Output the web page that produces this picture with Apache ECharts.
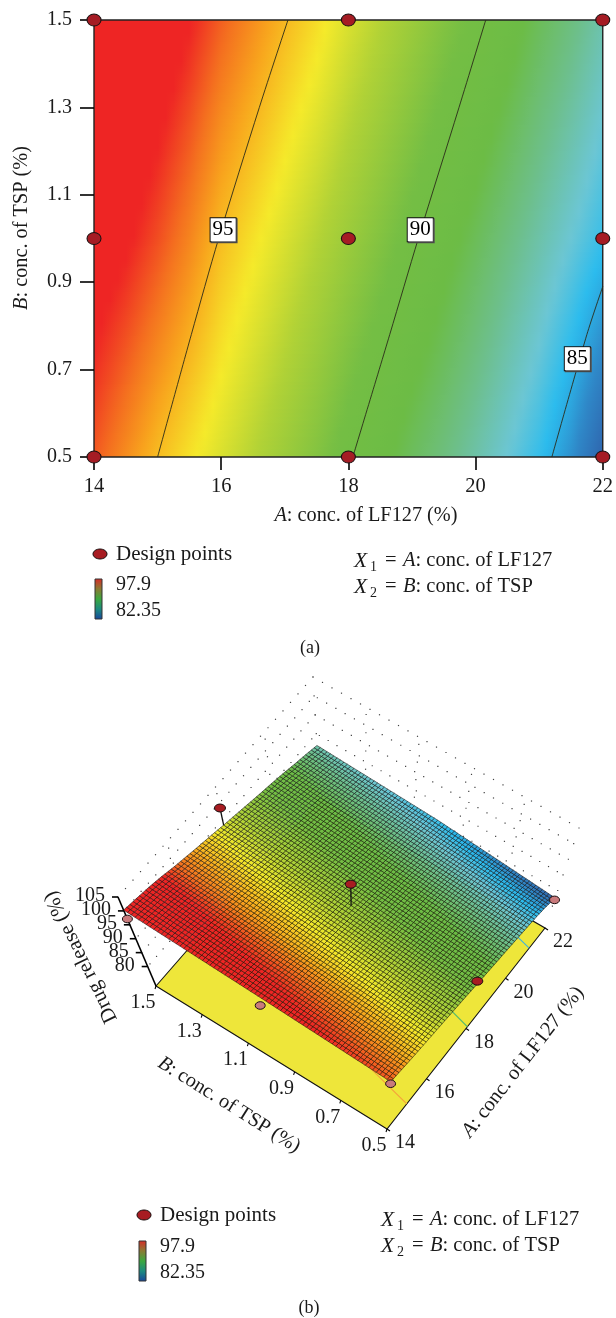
<!DOCTYPE html>
<html><head><meta charset="utf-8">
<style>html,body{margin:0;padding:0;background:#fff}#c{width:616px;height:1318px}</style>
<script src="https://cdn.jsdelivr.net/npm/echarts@6/dist/echarts.min.js"></script>
</head><body><div id="c"></div>
<script>
// ---------- data ----------
const concA = [14,14.5,15,15.5,16,16.5,17,17.5,18,18.5,19,19.5,20,20.5,21,21.5,22];
const concB = [0.5,1.0,1.5];
const releaseB05 = [97.0,96.0,95.0,94.2,93.4,92.6,91.8,91.0,90.1,89.3,88.5,87.8,87.0,86.2,85.35,84.2,82.6];
const releaseB10 = [98.8,98.1,97.2,96.2,95.0,94.2,93.4,92.6,91.8,91.0,90.2,89.4,88.6,87.8,87.0,86.2,85.4];
const releaseB15 = [100.3,99.6,98.9,98.0,96.9,96.0,95.1,94.3,93.4,92.6,91.8,91.0,90.3,89.5,88.6,87.8,86.9];
const contour95 = [[15.0,0.5],[15.53,0.78],[15.96,1.0],[16.6,1.3],[17.05,1.5]];
const contour90 = [[18.07,0.5],[18.65,0.78],[19.1,1.0],[19.74,1.3],[20.16,1.5]];
const contour85 = [[21.2,0.5],[21.75,0.78],[22,0.89]];
const contourLabels = [[16.03,1.02,'95'],[19.13,1.02,'90'],[21.6,0.725,'85']];
const designPoints2D = [[14,1.5],[18,1.5],[22,1.5],[14,1.0],[18,1.0],[22,1.0],[14,0.5],[18,0.5],[22,0.5]];
// A, B, response, above surface (1) or under it (0)
const designPoints3D = [[14,1.5,97.1,0],[18,1.5,98.6,1],[14,1.0,94.9,0],[14,0.5,96,0],[18,1.0,99.1,1],[18,0.5,91.6,1],[22,0.5,82,0]];
const ticksA2D = [14,16,18,20,22];
const ticksA3D = [14,16,18,20,22];
const ticksB3D = [1.5,1.3,1.1,0.9,0.7,0.5];
const ticksZ3D = [105,100,95,90,85,80];
const legendMax = '97.9', legendMin = '82.35';
// colour scale: response -> colour
const scaleValues = [82.35,84,85.2,86.2,87.5,89,90.5,92.5,94,95.5,96.6,97.9];
const scaleColors = ['#2f5ea8','#2f88c8','#2bbcee','#6cc6d4','#6dbf8c','#6cbc45','#74be44','#b1d236','#f5ea2a','#f8a51d','#f4701f','#ee2524'];

// ---------- helpers ----------
const serif = '"Liberation Serif"';
const rows = [releaseB05, releaseB10, releaseB15];
const rgb = scaleColors.map(c => [1,3,5].map(k => parseInt(c.substr(k,2),16)));
function colorOf(v){
  if (v <= scaleValues[0]) return scaleColors[0];
  const n = scaleValues.length-1;
  if (v >= scaleValues[n]) return scaleColors[n];
  let k = 0; while (scaleValues[k+1] < v) k++;
  const t = (v-scaleValues[k])/(scaleValues[k+1]-scaleValues[k]);
  const c = rgb[k].map((x,m)=>Math.round(x+(rgb[k+1][m]-x)*t));
  return 'rgb('+c.join(',')+')';
}
function blend(i,j,s,t){ // shade between the four table values round one cell
  const lo = rows[j][i]+(rows[j][i+1]-rows[j][i])*s;
  const hi = rows[j+1][i]+(rows[j+1][i+1]-rows[j+1][i])*s;
  return lo+(hi-lo)*t;
}
const cells = [];
for (let j=0;j<concB.length-1;j++) for (let i=0;i<concA.length-1;i++)
  cells.push([concA[i],concB[j],concA[i+1],concB[j+1],i,j]);

// 3D view: the eight projected corners of the plot box (floor z=73, top z=105)
const Z0 = 73, Z1 = 105;
const floorC = {a14b15:[156,986],a14b05:[387,1129],a22b05:[545,928],a22b15:[320,798]};
const topC   = {a14b15:[118,897],a14b05:[392,1066],a22b05:[579,828],a22b15:[313,677]};
function corner(C,u,v){
  const p=[0,1].map(k=>{
    const m=C.a14b15[k]+(C.a22b15[k]-C.a14b15[k])*u;
    const n=C.a14b05[k]+(C.a22b05[k]-C.a14b05[k])*u;
    return m+(n-m)*v;});
  return p;
}
function proj(a,b,z){
  const u=(a-14)/8, v=(1.5-b)/1, w=(z-Z0)/(Z1-Z0);
  const f=corner(floorC,u,v), t=corner(topC,u,v);
  return [f[0]+(t[0]-f[0])*w, f[1]+(t[1]-f[1])*w];
}
function surfaceAt(a,b){
  let i=Math.min(Math.floor((a-14)/0.5),15), j=Math.min(Math.floor((b-0.5)/0.5),1);
  return blend(i,j,(a-concA[i])/0.5,(b-concB[j])/0.5);
}

// ---------- render items ----------
function renderField(params,api){
  const a0=api.value(0),b0=api.value(1),a1=api.value(2),b1=api.value(3),i=api.value(4),j=api.value(5);
  const p0=api.coord([a0,b1]),p1=api.coord([a1,b0]);
  const h=p1[1]-p0[1],n=Math.ceil(h/2),ch=[];
  const xL=Math.round(p0[0]),xR=Math.round(p1[0]);
  for(let r=0;r<n;r++){
    const t=1-(r+0.5)/n,stops=[];
    for(let q=0;q<=4;q++) stops.push({offset:q/4,color:colorOf(blend(i,j,q/4,t))});
    const y0=Math.round(p0[1]+r*h/n),y1=Math.round(p0[1]+(r+1)*h/n);
    ch.push({type:'rect',shape:{x:xL,y:y0,width:xR-xL,height:y1-y0},
      style:{fill:{type:'linear',x:0,y:0,x2:1,y2:0,global:false,colorStops:stops}},silent:true});
  }
  return {type:'group',children:ch};
}
function renderFrame(params,api){
  const p=api.coord([14,1.5]),q=api.coord([22,0.5]);
  return {type:'rect',shape:{x:p[0],y:p[1],width:q[0]-p[0],height:q[1]-p[1]},
    style:{fill:'none',stroke:'#222',lineWidth:1.4},silent:true};
}
function P(a,b,z,api){return api.coord(proj(a,b,z));}
function renderSurface(params,api){
  const i=api.value(4),j=api.value(5),nA=4,nB=36,da=0.5,db=0.5,ch=[];
  for(let s=0;s<nA;s++)for(let t=0;t<nB;t++){
    const s0=s/nA,s1=(s+1)/nA,t0=t/nB,t1=(t+1)/nB;
    const a0=concA[i]+da*s0,a1=concA[i]+da*s1,b0=concB[j]+db*t0,b1=concB[j]+db*t1;
    const pts=[P(a0,b0,blend(i,j,s0,t0),api),P(a1,b0,blend(i,j,s1,t0),api),
               P(a1,b1,blend(i,j,s1,t1),api),P(a0,b1,blend(i,j,s0,t1),api)];
    ch.push({type:'polygon',shape:{points:pts},
      style:{fill:colorOf(blend(i,j,(s0+s1)/2,(t0+t1)/2)),stroke:'rgba(10,10,10,0.65)',lineWidth:0.8},silent:true});
  }
  return {type:'group',children:ch};
}
function renderFloor(params,api){
  const c=[[14,1.5],[14,0.5],[22,0.5],[22,1.5]].map(q=>P(q[0],q[1],Z0,api));
  const ch=[{type:'polygon',shape:{points:c},style:{fill:'#eee63a',stroke:'#111',lineWidth:1.1},silent:true}];
  [[contour95,'#f6a13a'],[contour90,'#5cbd6a'],[contour85,'#3fb3e0']].forEach(e=>{
    ch.push({type:'polyline',shape:{points:e[0].map(q=>P(q[0],q[1],Z0,api))},
      style:{stroke:e[1],lineWidth:1.1,fill:'none'},silent:true});
  });
  return {type:'group',children:ch};
}
function renderWalls(params,api){
  const ch=[];
  const dot=(a,b,z)=>{const p=P(a,b,z,api);
    ch.push({type:'rect',shape:{x:p[0]-0.6,y:p[1]-0.6,width:1.2,height:1.2},style:{fill:'#444'},silent:true});};
  ticksZ3D.forEach((z,m)=>{
    for(let k=0;k<=26;k++){const o=(m%2)*0.35;dot(14+8*Math.min(1,(k+o)/26),1.5,z);}
    for(let k=0;k<=28;k++){const o=(m%2)*0.35;dot(22,1.5-Math.min(1,(k+o)/28),z);}
  });
  ticksA3D.slice(1,4).forEach(a=>{for(let k=0;k<=4;k++)dot(a,1.5,85+k*5-2);});
  ticksB3D.slice(1,5).forEach(b=>{for(let k=0;k<=4;k++)dot(22,b,85+k*5-2);});
  return {type:'group',children:ch};
}
function renderAxes3D(params,api){
  const line=(p,q,w)=>({type:'line',shape:{x1:p[0],y1:p[1],x2:q[0],y2:q[1]},style:{stroke:'#000',lineWidth:w},silent:true});
  const text=(p,s,al)=>({type:'text',x:p[0],y:p[1],style:{text:s,font:'20px '+serif,fill:'#1a1a1a',align:al||'center',verticalAlign:'middle'},silent:true});
  const ch=[line(P(14,1.5,Z0,api),P(14,1.5,Z1,api),1.6)];
  ticksZ3D.forEach(z=>{const p=P(14,1.5,z,api);
    ch.push(line(p,[p[0]-6,p[1]],1.6));
    ch.push(text([p[0]-13,p[1]-1],String(z),'right'));});
  ticksA3D.forEach(a=>{const p=P(a,0.5,Z0,api);
    ch.push(line(p,[p[0]+3,p[1]+2],1.1));
    ch.push(text([p[0]+18,p[1]+14],String(a)));});
  ticksB3D.forEach(b=>{const p=P(14,b,Z0,api);
    ch.push(line(p,[p[0]-1,p[1]+3],1.1));
    ch.push(text([p[0]-13,p[1]+17],b.toFixed(1)));});
  return {type:'group',children:ch};
}
function renderPins(params,api){
  const a=api.value(0),b=api.value(1),z=api.value(2),up=api.value(3);
  const p=P(a,b,z,api),ch=[];
  if(up){const s=P(a,b,surfaceAt(a,b),api);
    ch.push({type:'line',shape:{x1:p[0],y1:p[1],x2:s[0],y2:s[1]},style:{stroke:'#111',lineWidth:1.3},silent:true});}
  ch.push({type:'ellipse',shape:{cx:p[0],cy:p[1],rx:up?5.5:5,ry:up?4:3.8},
    style:{fill:up?'#a81c22':'#c97a7c',stroke:'#1a1111',lineWidth:1},silent:true});
  return {type:'group',children:ch};
}

// ---------- page furniture ----------
const richI = s=>({fontStyle:'italic',fontFamily:serif,fontSize:s,fill:'#1a1a1a'});
function T(x,y,text,size,extra){
  return Object.assign({type:'text',x,y,z:20,silent:true,
    style:{text,rich:{i:richI(size)},fontFamily:serif,fontSize:size,fill:'#1a1a1a',align:'left',verticalAlign:'middle'}},extra||{});
}
function TC(x,y,text,size,rotDeg){
  const t=T(x,y,text,size,{rotation:(rotDeg||0)*Math.PI/180});
  t.style.align='center';return t;
}
const barFill=()=>({type:'linear',x:0,y:0,x2:0,y2:1,colorStops:[
  {offset:0,color:'#d92a28'},{offset:0.25,color:'#8c7a32'},{offset:0.5,color:'#3ba83f'},{offset:0.75,color:'#1c8a80'},{offset:1,color:'#17459c'}]});
function legendBlock(dx,dy,xEq,yEq,xBar,yBar){
  const eq=(y,n,rest)=>[T(xEq,y,'{i|X}',21.5),T(xEq+16,y+6,n,14),T(xEq+31,y,'=',20.5),T(xEq+49,y,rest,20.5)];
  return [
    {type:'ellipse',z:20,silent:true,shape:{cx:dx,cy:dy,rx:7,ry:5},style:{fill:'#a81c22',stroke:'#1a1111',lineWidth:1}},
    T(dx+16,dy,'Design points',21),
    {type:'rect',z:20,silent:true,shape:{x:xBar,y:yBar,width:7,height:40},style:{fill:barFill(),stroke:'#333',lineWidth:1}},
    T(xBar+21,yBar+6,legendMax,20),
    T(xBar+21,yBar+32,legendMin,20)
  ].concat(eq(yEq,'1','{i|A}: conc. of LF127'),eq(yEq+26,'2','{i|B}: conc. of TSP'));
}
const graphicEls = [
  TC(366,516,'{i|A}: conc. of LF127 (%)',20.3),
  TC(22,228,'{i|B}: conc. of TSP (%)',20.3,90),
  TC(310,648,'(a)',18),
  TC(309,1308,'(b)',18),
  TC(229,1105,'{i|B}: conc. of TSP (%)',20.3,-32),
  TC(523,1062,'{i|A}: conc. of LF127 (%)',20.5,52),
  TC(81,957,'Drug release (%)',21,115.8)
].concat(legendBlock(100,554,354,561,95,579),legendBlock(144,1215,381,1220,139,1241));

const noAxis={show:false};
const option={
  animation:false,
  backgroundColor:'#fff',
  grid:[{left:94,top:20,width:510,height:437},{left:0,top:660,width:616,height:658}],
  xAxis:[
    {gridIndex:0,type:'value',min:14,max:22,interval:2,z:5,
     splitLine:noAxis,axisLine:noAxis,
     axisTick:{show:true,length:13,lineStyle:{color:'#000',width:1.6}},
     axisLabel:{margin:19,fontFamily:serif,fontSize:20.5,color:'#1a1a1a',hideOverlap:false,showMinLabel:true,showMaxLabel:true,
       formatter:v=>ticksA2D.includes(v)?String(v):''}},
    {gridIndex:1,type:'value',min:0,max:616,show:false}
  ],
  yAxis:[
    {gridIndex:0,type:'value',min:0.5,max:1.5,interval:0.2,z:5,
     splitLine:noAxis,axisLine:noAxis,
     axisTick:{show:true,length:14,lineStyle:{color:'#000',width:1.6}},
     axisLabel:{margin:22,fontFamily:serif,fontSize:20,color:'#1a1a1a',showMinLabel:true,showMaxLabel:true,formatter:v=>v.toFixed(1)}},
    {gridIndex:1,type:'value',min:660,max:1318,inverse:true,show:false}
  ],
  graphic:{elements:graphicEls},
  series:[
    {type:'custom',name:'Response field',xAxisIndex:0,yAxisIndex:0,z:2,clip:false,silent:true,
     encode:{x:[0,2],y:[1,3]},data:cells,renderItem:renderField},
    {type:'custom',name:'Frame',xAxisIndex:0,yAxisIndex:0,z:3,clip:false,silent:true,
     encode:{x:0,y:1},data:[[14,1.5]],renderItem:renderFrame},
    ...[['95',contour95],['90',contour90],['85',contour85]].map(c=>({
      type:'line',name:'Contour '+c[0],xAxisIndex:0,yAxisIndex:0,z:4,silent:true,showSymbol:false,symbol:'none',smooth:0.3,
      lineStyle:{color:'#2b2b1a',width:0.9},data:c[1]})),
    {type:'scatter',name:'Contour labels',xAxisIndex:0,yAxisIndex:0,z:6,silent:true,symbolSize:0,
     data:contourLabels.map(l=>({value:[l[0],l[1]],label:{formatter:l[2]}})),
     label:{show:true,position:'inside',fontFamily:serif,fontSize:21,color:'#000',backgroundColor:'#ffffff',opacity:1,
       borderColor:'#111',borderWidth:1,padding:[2,2,0,2],shadowColor:'#555',shadowOffsetX:1,shadowOffsetY:1,shadowBlur:0}},
    {type:'scatter',name:'Design points',xAxisIndex:0,yAxisIndex:0,z:10,silent:true,clip:false,symbol:'circle',symbolSize:[14,12],
     itemStyle:{color:'#a51c24',borderColor:'#1a1111',borderWidth:1,opacity:1},data:designPoints2D},
    {type:'custom',name:'Floor',xAxisIndex:1,yAxisIndex:1,z:2,clip:false,silent:true,encode:{x:0,y:1},data:[[0,0]],renderItem:renderFloor},
    {type:'custom',name:'Walls',xAxisIndex:1,yAxisIndex:1,z:2,clip:false,silent:true,encode:{x:0,y:1},data:[[0,0]],renderItem:renderWalls},
    {type:'custom',name:'Axes 3D',xAxisIndex:1,yAxisIndex:1,z:3,clip:false,silent:true,encode:{x:0,y:1},data:[[0,0]],renderItem:renderAxes3D},
    {type:'custom',name:'Surface',xAxisIndex:1,yAxisIndex:1,z:4,clip:false,silent:true,encode:{x:[0,2],y:[1,3]},data:cells,renderItem:renderSurface},
    {type:'custom',name:'Design points 3D',xAxisIndex:1,yAxisIndex:1,z:5,clip:false,silent:true,encode:{x:0,y:1},data:designPoints3D,renderItem:renderPins}
  ]
};
const chart=echarts.init(document.getElementById('c'),null,{renderer:'canvas',width:616,height:1318});
chart.setOption(option);
</script></body></html>
